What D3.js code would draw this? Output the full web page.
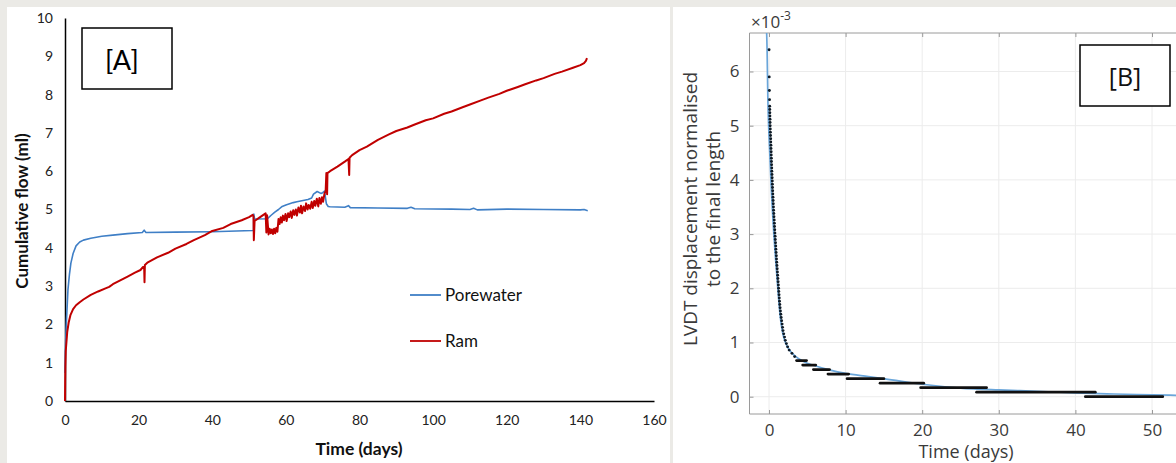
<!DOCTYPE html>
<html>
<head>
<meta charset="utf-8">
<script src="https://cdn.jsdelivr.net/npm/d3@7"></script>
<style>
  html, body { margin: 0; padding: 0; background: #ebeae6; }
  svg { display: block; }
</style>
</head>
<body>
<svg id="chart" width="1176" height="463"></svg>
<script>
// ---------------- Panel A data ----------------
const xTicksA = [0, 20, 40, 60, 80, 100, 120, 140, 160];
const yTicksA = [0, 1, 2, 3, 4, 5, 6, 7, 8, 9, 10];
const seriesNamesA = ["Porewater", "Ram"];

const poreT = [0, 0.1, 0.3, 0.5, 0.8, 1.2, 1.6, 2.2, 3.0, 4.0, 5.0, 7.0, 10, 13, 17, 21, 21.5, 22, 30, 40, 51, 51.2, 51.3, 51.5, 55, 56, 57, 58, 59, 60, 61, 62, 63, 64, 65, 66, 67, 67.5, 68.5, 69.5, 70, 70.5, 71, 71.5, 72, 76, 77, 77.5, 85, 93, 94, 95, 105, 110, 111, 112, 120, 130, 140, 141, 142];
const poreV = [0.73, 1.3, 1.9, 2.3, 2.9, 3.3, 3.6, 3.85, 4.05, 4.15, 4.2, 4.25, 4.3, 4.33, 4.37, 4.4, 4.46, 4.4, 4.41, 4.42, 4.45, 4.45, 4.88, 4.75, 4.76, 4.85, 4.93, 5.0, 5.08, 5.12, 5.15, 5.18, 5.2, 5.22, 5.24, 5.26, 5.3, 5.4, 5.47, 5.42, 5.44, 5.48, 5.15, 5.08, 5.07, 5.06, 5.1, 5.05, 5.04, 5.03, 5.06, 5.02, 5.01, 5.0, 5.03, 4.99, 5.01, 5.0, 4.99, 5.0, 4.97];

const ramT = [0, 0.05, 0.1, 0.2, 0.4, 0.6, 1.0, 1.5, 2.2, 3.0, 4.0, 5.0, 7.0, 9.0, 11, 12, 13, 15, 17, 19, 20.5, 21.2, 21.5, 21.6, 21.7, 22.5, 25, 28, 30, 33, 35, 38, 40, 43, 45, 48, 50, 51, 51.2, 51.3, 51.5, 53, 54.5, 54.7, 54.9, 55.3, 55.6, 55.9, 56.2, 56.5, 56.8, 57.1, 57.4, 57.7,
  58, 58.3, 58.6, 58.9, 59.2, 59.5, 59.9, 60.2, 60.6, 60.9, 61.3, 61.6, 62, 62.3, 62.7, 63, 63.4, 63.8, 64.1, 64.4, 64.8, 65.2, 65.5, 65.9, 66.2, 66.6, 67, 67.3, 67.7, 68, 68.4, 68.8, 69.1, 69.5, 69.8, 70.1, 70.5, 70.8,
  71.0, 71.2, 71.3, 72, 74, 76, 77.0, 77.2, 77.3, 78, 80, 82, 85, 88, 90, 93, 95, 98, 100, 103, 105, 108, 110, 113, 115, 118, 120, 123, 125, 128, 130, 133, 135, 138, 140, 141, 141.5, 141.8];
const ramV = [0, 0.5, 0.9, 1.3, 1.55, 1.8, 2.05, 2.25, 2.4, 2.5, 2.58, 2.65, 2.77, 2.86, 2.94, 2.98, 3.05, 3.15, 3.25, 3.35, 3.42, 3.5, 3.5, 3.1, 3.55, 3.62, 3.75, 3.87, 3.98, 4.1, 4.2, 4.33, 4.44, 4.52, 4.62, 4.72, 4.8, 4.86, 4.82, 4.2, 4.7, 4.8, 4.9, 4.4, 4.85, 4.35, 4.5, 4.38, 4.48, 4.36, 4.5, 4.38, 4.52, 4.42,
  4.75, 4.62, 4.8, 4.66, 4.84, 4.72, 4.88, 4.7, 4.9, 4.8, 4.95, 4.78, 4.98, 4.86, 5.0, 4.84, 5.05, 4.92, 5.1, 4.9, 5.08, 4.96, 5.16, 5.0, 5.12, 5.02, 5.2, 5.04, 5.22, 5.1, 5.28, 5.08, 5.3, 5.15, 5.32, 5.2, 5.42, 5.48,
  5.95, 5.4, 5.95, 6.0, 6.12, 6.25, 6.32, 5.9, 6.35, 6.42, 6.55, 6.64, 6.82, 6.96, 7.05, 7.14, 7.22, 7.33, 7.38, 7.5, 7.56, 7.67, 7.74, 7.85, 7.92, 8.02, 8.1, 8.2, 8.27, 8.37, 8.43, 8.54, 8.6, 8.7, 8.77, 8.82, 8.88, 8.95];

// ---------------- Panel B data (×10^-3) ----------------
const xTicksB = [0, 10, 20, 30, 40, 50];
const yTicksB = [0, 1, 2, 3, 4, 5, 6];
const fitT = [-0.35, -0.25, -0.15, -0.05, 0.1, 0.25, 0.42, 0.63, 0.88, 1.15, 1.45, 1.75, 2.15, 2.8, 3.5, 4.5, 6, 8, 10, 13, 16, 20, 25, 30, 35, 40, 45, 50, 55];
const fitV = [6.9, 6.4, 5.5, 5.0, 4.5, 4.0, 3.5, 3.0, 2.5, 2.0, 1.5, 1.2, 1.0, 0.84, 0.74, 0.65, 0.57, 0.49, 0.43, 0.37, 0.31, 0.23, 0.16, 0.125, 0.1, 0.07, 0.05, 0.035, 0.02];
const dotT = [0.01,0.03,0.05,0.07,0.09,0.10,0.11,0.12,0.13,0.14,0.15,0.17,0.18,0.20,0.22,0.23,0.25,0.26,0.28,0.29,0.31,0.32,0.34,0.36,0.37,0.39,0.41,0.43,0.44,0.46,0.48,0.50,0.52,0.54,0.56,0.58,0.60,0.63,0.65,0.68,0.70,0.72,0.75,0.77,0.80,0.82,0.85,0.88,0.90,0.93,0.96,0.98,1.01,1.04,1.07,1.10,1.13,1.16,1.19,1.22,1.25,1.28,1.31,1.34,1.37,1.41,1.45,1.49,1.54,1.59,1.65,1.71,1.77,1.83,1.92,2.03,2.13,2.27,2.43,2.63,3.0,3.35];
const dotV = [6.40,5.90,5.65,5.48,5.36,5.30,5.24,5.18,5.12,5.06,5.00,4.94,4.88,4.82,4.76,4.70,4.64,4.58,4.52,4.46,4.40,4.34,4.28,4.22,4.16,4.10,4.04,3.98,3.92,3.86,3.80,3.74,3.68,3.62,3.56,3.50,3.44,3.38,3.32,3.26,3.20,3.14,3.08,3.02,2.96,2.90,2.84,2.78,2.72,2.66,2.60,2.54,2.48,2.42,2.36,2.30,2.24,2.18,2.12,2.06,2.00,1.94,1.88,1.82,1.76,1.70,1.64,1.58,1.52,1.46,1.40,1.34,1.28,1.22,1.16,1.10,1.04,0.98,0.92,0.86,0.80,0.74];
const stepStart = [3.6, 4.4, 5.8, 7.7, 10.2, 14.5, 19.8, 27.1, 41.3];
const stepEnd   = [4.9, 6.1, 7.9, 10.4, 15.0, 20.2, 28.4, 42.6, 51.4];
const stepLevel = [0.667, 0.583, 0.5, 0.417, 0.333, 0.25, 0.167, 0.083, 0.0];

const svg = d3.select("#chart");

// backgrounds
svg.append("rect").attr("x", 7).attr("y", 7).attr("width", 663).attr("height", 456).attr("fill", "#ffffff");
svg.append("rect").attr("x", 673).attr("y", 7).attr("width", 503).attr("height", 456).attr("fill", "#ffffff");

// ================= Panel A =================
const fontA = "Lato, 'Open Sans', sans-serif";
const xA = d3.scaleLinear().domain([0, 160]).range([65, 654]);
const yA = d3.scaleLinear().domain([0, 10]).range([401, 18]);
const gA = svg.append("g");

const yAxisA = d3.axisLeft(yA).tickValues(yTicksA).tickSize(0).tickPadding(12).tickFormat(d3.format("d"));
gA.append("g").attr("transform", `translate(${xA(0)},0)`).call(yAxisA)
  .call(g => { g.select(".domain").attr("stroke", "#000").attr("stroke-width", 1.5);
    g.selectAll("text").attr("font-family", fontA).attr("font-size", 14).attr("fill", "#222"); });
const xAxisA = d3.axisBottom(xA).tickValues(xTicksA).tickSize(0).tickPadding(14).tickFormat(d3.format("d"));
gA.append("g").attr("transform", `translate(0,${yA(0)})`).call(xAxisA)
  .call(g => { g.select(".domain").attr("stroke", "#000").attr("stroke-width", 1.5);
    g.selectAll("text").attr("font-family", fontA).attr("font-size", 14).attr("fill", "#222"); });

const lineA = d3.line().x(d => xA(d[0])).y(d => yA(d[1]));
const poreData = poreT.map((t, i) => [t, poreV[i]]);
const ramData = ramT.map((t, i) => [t, ramV[i]]);
const colorsA = ["#3f7fc6", "#c00000"];
gA.append("path").datum(poreData).attr("d", lineA).attr("fill", "none")
  .attr("stroke", colorsA[0]).attr("stroke-width", 1.6).attr("stroke-linejoin", "round");
gA.append("path").datum(ramData).attr("d", lineA).attr("fill", "none")
  .attr("stroke", colorsA[1]).attr("stroke-width", 2).attr("stroke-linejoin", "round");

gA.append("text").attr("transform", "translate(28,211) rotate(-90)").attr("text-anchor", "middle")
  .attr("font-family", fontA).attr("font-weight", "bold").attr("font-size", 17).attr("fill", "#111")
  .text("Cumulative flow (ml)");
gA.append("text").attr("x", 359).attr("y", 455).attr("text-anchor", "middle")
  .attr("font-family", fontA).attr("font-weight", "bold").attr("font-size", 17.5).attr("fill", "#111")
  .text("Time (days)");

const legY = [295, 341];
seriesNamesA.forEach((name, i) => {
  gA.append("line").attr("x1", 410).attr("x2", 441).attr("y1", legY[i]).attr("y2", legY[i])
    .attr("stroke", colorsA[i]).attr("stroke-width", 1.8);
  gA.append("text").attr("x", 445).attr("y", legY[i] + 6).attr("font-family", fontA)
    .attr("font-size", 17).attr("fill", "#111").text(name);
});

gA.append("rect").attr("x", 82).attr("y", 28).attr("width", 90).attr("height", 61)
  .attr("fill", "none").attr("stroke", "#000").attr("stroke-width", 1.5);
gA.append("text").attr("x", 122).attr("y", 70).attr("text-anchor", "middle")
  .attr("font-family", fontA).attr("font-size", 27).attr("fill", "#000").text("[A]");

// ================= Panel B =================
const fontB = "'Open Sans', 'Noto Sans', sans-serif";
const xB = d3.scaleLinear().domain([-2.5, 55]).range([749.85, 1190.3]);
const yB = d3.scaleLinear().domain([-0.319, 6.71]).range([414, 33]);
const gB = svg.append("g");
const bLeft = 749.5, bTop = 33, bBottom = 414;

svg.append("clipPath").attr("id", "clipB").append("rect")
  .attr("x", bLeft).attr("y", bTop).attr("width", 1176 - bLeft).attr("height", bBottom - bTop);

gB.append("g").selectAll("line").data(xTicksB).join("line")
  .attr("x1", d => xB(d)).attr("x2", d => xB(d)).attr("y1", bTop).attr("y2", bBottom)
  .attr("stroke", "#ececec").attr("stroke-width", 1);
gB.append("g").selectAll("line").data(yTicksB).join("line")
  .attr("x1", bLeft).attr("x2", 1176).attr("y1", d => yB(d)).attr("y2", d => yB(d))
  .attr("stroke", "#ececec").attr("stroke-width", 1);

const yAxisB = d3.axisLeft(yB).tickValues(yTicksB).tickSize(-4).tickPadding(10).tickFormat(d3.format("d"));
gB.append("g").attr("transform", `translate(${bLeft},0)`).call(yAxisB)
  .call(g => { g.select(".domain").remove();
    g.selectAll(".tick line").attr("stroke", "#999");
    g.selectAll("text").attr("font-family", fontB).attr("font-size", 17).attr("fill", "#3a3a3a"); });
const xAxisB = d3.axisBottom(xB).tickValues(xTicksB).tickSize(-4).tickPadding(10).tickFormat(d3.format("d"));
gB.append("g").attr("transform", `translate(0,${bBottom})`).call(xAxisB)
  .call(g => { g.select(".domain").remove();
    g.selectAll(".tick line").attr("stroke", "#999");
    g.selectAll("text").attr("font-family", fontB).attr("font-size", 17).attr("fill", "#3a3a3a"); });
const xAxisBTop = d3.axisTop(xB).tickValues(xTicksB).tickSize(-4).tickFormat("");
gB.append("g").attr("transform", `translate(0,${bTop})`).call(xAxisBTop)
  .call(g => { g.select(".domain").remove(); g.selectAll(".tick line").attr("stroke", "#999"); });

gB.append("line").attr("x1", bLeft).attr("x2", bLeft).attr("y1", bTop).attr("y2", bBottom).attr("stroke", "#9a9a9a");
gB.append("line").attr("x1", bLeft).attr("x2", 1176).attr("y1", bTop).attr("y2", bTop).attr("stroke", "#9a9a9a");
gB.append("line").attr("x1", bLeft).attr("x2", 1176).attr("y1", bBottom).attr("y2", bBottom).attr("stroke", "#9a9a9a");

const plotB = gB.append("g").attr("clip-path", "url(#clipB)");
const lineB = d3.line().x(d => xB(d[0])).y(d => yB(d[1])).curve(d3.curveMonotoneX);
plotB.append("path").datum(fitT.map((t, i) => [t, fitV[i]])).attr("d", lineB)
  .attr("fill", "none").attr("stroke", "#6aa6da").attr("stroke-width", 1.7);
plotB.selectAll("line.step").data(stepLevel).join("line").attr("class", "step")
  .attr("x1", (d, i) => xB(stepStart[i])).attr("x2", (d, i) => xB(stepEnd[i]))
  .attr("y1", d => yB(d)).attr("y2", d => yB(d))
  .attr("stroke", "#111").attr("stroke-width", 2.8).attr("stroke-linecap", "round");
plotB.selectAll("circle.dot").data(dotV).join("circle").attr("class", "dot")
  .attr("cx", (d, i) => xB(dotT[i])).attr("cy", d => yB(d)).attr("r", 1.45).attr("fill", "#0d1a26");

const ex = gB.append("text").attr("x", 751).attr("y", 28).attr("font-family", fontB)
  .attr("font-size", 17).attr("fill", "#3a3a3a");
ex.append("tspan").text("×10");
ex.append("tspan").attr("dy", -8).attr("font-size", 12).text("-3");

gB.append("text").attr("transform", "translate(697,209) rotate(-90)").attr("text-anchor", "middle")
  .attr("font-family", fontB).attr("font-size", 19).attr("fill", "#3a3a3a").text("LVDT displacement normalised");
gB.append("text").attr("transform", "translate(720,209) rotate(-90)").attr("text-anchor", "middle")
  .attr("font-family", fontB).attr("font-size", 19).attr("fill", "#3a3a3a").text("to the final length");
gB.append("text").attr("x", 966).attr("y", 458).attr("text-anchor", "middle")
  .attr("font-family", fontB).attr("font-size", 18).attr("fill", "#3a3a3a").text("Time (days)");

gB.append("rect").attr("x", 1080).attr("y", 45).attr("width", 90).attr("height", 61)
  .attr("fill", "#fff").attr("stroke", "#000").attr("stroke-width", 1.5);
gB.append("text").attr("x", 1125).attr("y", 86).attr("text-anchor", "middle")
  .attr("font-family", fontB).attr("font-size", 25).attr("fill", "#111").text("[B]");
</script>
</body>
</html>
